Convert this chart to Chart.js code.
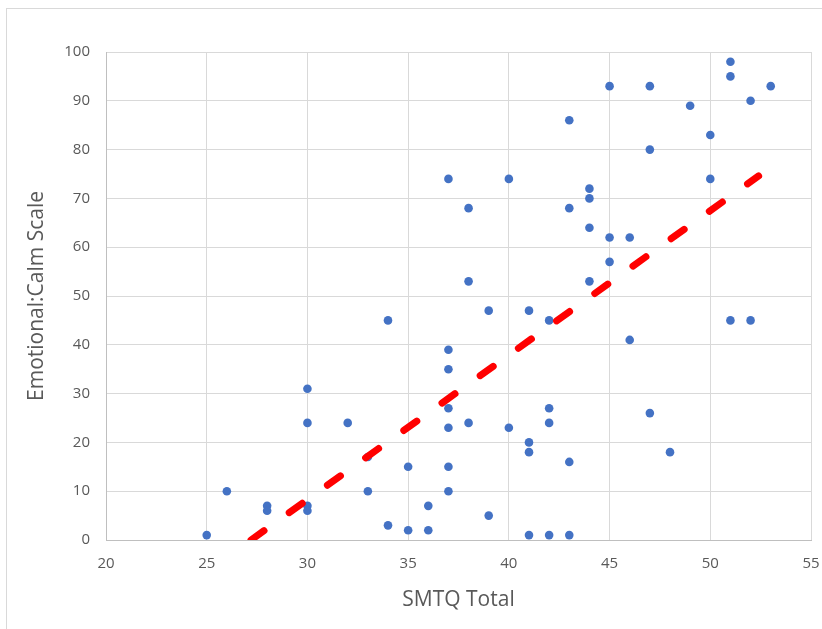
<!DOCTYPE html>
<html>
<head>
<meta charset="utf-8">
<script src="https://cdn.jsdelivr.net/npm/chart.js@4.4.1/dist/chart.umd.min.js"></script>
<style>
  html, body { margin: 0; padding: 0; background: #ffffff; }
  #wrap { position: relative; width: 822px; height: 629px; overflow: hidden; }
  #frame { position: absolute; left: 6px; top: 8px; width: 830px; height: 640px; border: 1px solid #d9d9d9; box-sizing: border-box; }
  canvas { position: absolute; left: 0; top: 0; }
</style>
</head>
<body>
<div id="wrap">
  <div id="frame"></div>
  <canvas id="c" width="822" height="629"></canvas>
</div>
<script>
// SMTQ Total (x) vs Emotional:Calm Scale (y)
const smtqTotal = [25, 26, 28, 28, 30, 30, 30, 30, 32, 33, 33, 34, 34, 35, 35, 36, 36,
  37, 37, 37, 37, 37, 37, 37, 38, 38, 38, 39, 39, 40, 40, 41, 41, 41, 41,
  42, 42, 42, 42, 43, 43, 43, 43, 44, 44, 44, 44, 45, 45, 45, 46, 46,
  47, 47, 47, 48, 49, 50, 50, 51, 51, 51, 52, 52, 53];
const calmScale = [1, 10, 7, 6, 31, 24, 7, 6, 24, 17, 10, 45, 3, 15, 2, 7, 2,
  74, 39, 35, 27, 23, 15, 10, 68, 53, 24, 47, 5, 74, 23, 47, 20, 18, 1,
  45, 27, 24, 1, 86, 68, 16, 1, 72, 70, 64, 53, 93, 62, 57, 62, 41,
  93, 80, 26, 18, 89, 83, 74, 98, 95, 45, 90, 45, 93];
// Linear trendline end points
const trendX = [27.2, 52.4];
const trendY = [0, 74.6];
const xTicks = [20, 25, 30, 35, 40, 45, 50, 55];
const yTicks = [0, 10, 20, 30, 40, 50, 60, 70, 80, 90, 100];

const points = smtqTotal.map((x, i) => ({ x: x, y: calmScale[i] }));
const trend = trendX.map((x, i) => ({ x: x, y: trendY[i] }));

const tickFont = { family: "'Open Sans', sans-serif", size: 15 };
const titleFont = { family: "'Open Sans', sans-serif", size: 21 };

new Chart(document.getElementById('c'), {
  type: 'scatter',
  data: {
    datasets: [
      {
        label: 'Emotional:Calm Scale',
        data: points,
        backgroundColor: '#4472C4',
        borderColor: '#4472C4',
        pointRadius: 4.3,
        pointHoverRadius: 4.3,
        borderWidth: 0,
        order: 2
      },
      {
        type: 'line',
        label: 'Linear trend',
        data: trend,
        borderColor: '#FF0000',
        borderWidth: 7,
        borderDash: [16, 31],
        borderCapStyle: 'round',
        pointRadius: 0,
        fill: false,
        tension: 0,
        order: 1
      }
    ]
  },
  options: {
    responsive: false,
    animation: false,
    devicePixelRatio: 1,
    layout: { padding: { left: 0, right: 0, top: 52, bottom: 0 } },
    plugins: { legend: { display: false }, tooltip: { enabled: false } },
    scales: {
      x: {
        type: 'linear',
        min: 20, max: 55,
        afterBuildTicks: s => { s.ticks = xTicks.map(v => ({ value: v })); },
        afterFit: s => { s.height = 89; s.paddingLeft = 0; s.paddingRight = 11; },
        grid: { color: '#d9d9d9', lineWidth: 1, drawTicks: false },
        border: { color: '#bfbfbf', width: 1 },
        ticks: { color: '#595959', font: tickFont, padding: 15 },
        title: { display: true, text: 'SMTQ Total', color: '#595959', font: titleFont, padding: { top: 0, bottom: 16.4 } }
      },
      y: {
        type: 'linear',
        min: 0, max: 100,
        afterBuildTicks: s => { s.ticks = yTicks.map(v => ({ value: v })); },
        afterFit: s => { s.width = 106; },
        grid: { color: '#d9d9d9', lineWidth: 1, drawTicks: false },
        border: { color: '#bfbfbf', width: 1 },
        ticks: { color: '#595959', font: tickFont, padding: 16 },
        title: { display: true, text: 'Emotional:Calm Scale', color: '#595959', font: titleFont, padding: { top: 24.4, bottom: 0 } }
      }
    }
  }
});
</script>
</body>
</html>
